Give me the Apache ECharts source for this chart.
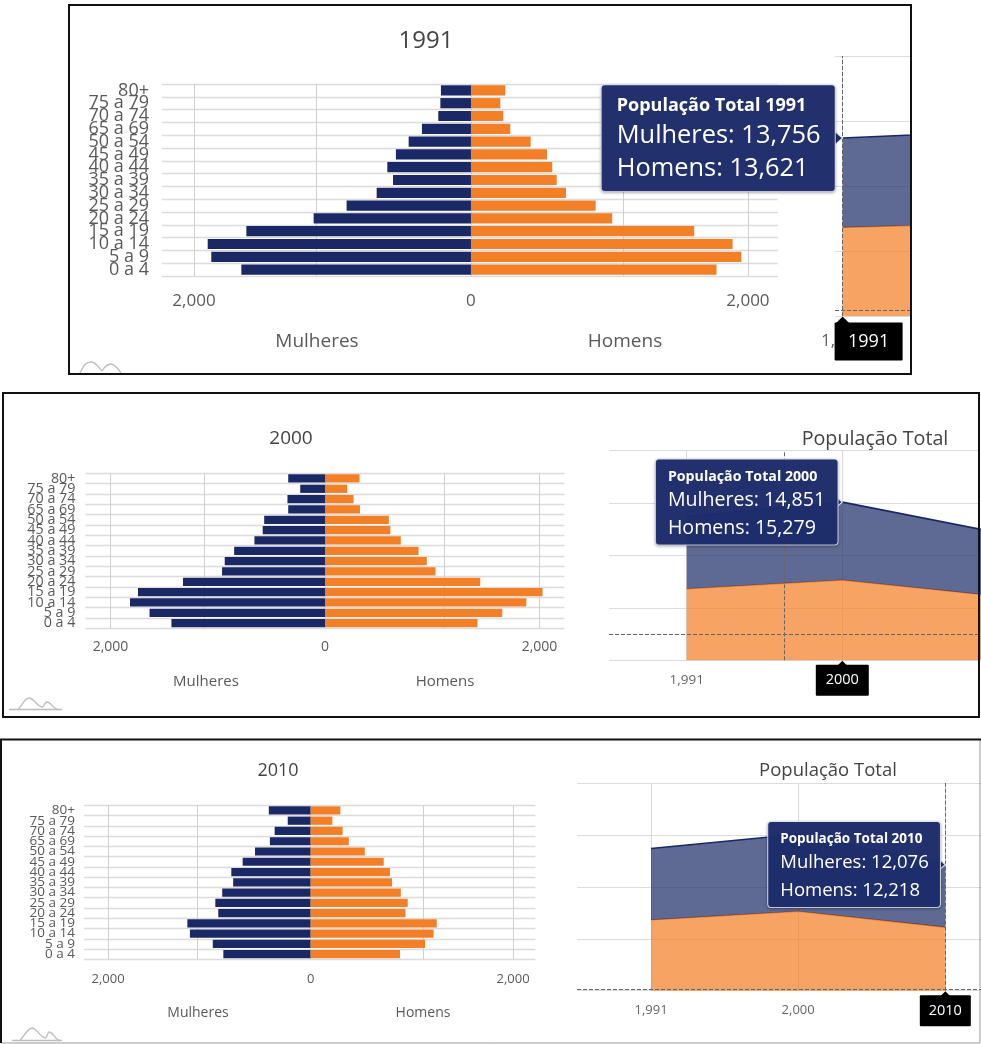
<!DOCTYPE html>
<html><head><meta charset="utf-8">
<style>html,body{margin:0;padding:0;background:#fff}#c{width:981px;height:1044px}</style>
<script src="https://cdn.jsdelivr.net/npm/echarts@6/dist/echarts.min.js"></script>
</head><body><div id="c"></div>
<script>
const categories = ['80+','75 a 79','70 a 74','65 a 69','50 a 54','45 a 49','40 a 44','35 a 39','30 a 34','25 a 29','20 a 24','15 a 19','10 a 14','5 a 9','0 a 4'];
const mulheres1991 = [217,221,236,354,450,542,604,563,681,898,1136,1622,1901,1875,1658];
const homens1991   = [248,212,233,284,431,549,587,619,686,900,1020,1612,1889,1952,1773];
const mulheres2000 = [343,231,350,343,567,581,658,847,935,960,1324,1744,1818,1636,1432];
const homens2000   = [322,207,266,326,595,609,707,872,949,1030,1447,2028,1877,1653,1422];
const mulheres2010 = [413,226,355,402,549,671,783,765,873,941,912,1217,1192,966,862];
const homens2010   = [294,215,316,377,535,722,783,804,891,959,937,1246,1214,1131,883];
const anos = ['1991','2000','2010'];
const anosEixo = ['1,991','2,000','2,010'];
const totalMulheres = [13756,14851,12076];
const totalHomens = [13621,15279,12218];
const tickLabels = [-2000,0,2000];

const NAVY='#1a2966', ORANGE='#f37f27', FONT='"Open Sans"';
const fmt = n => Math.abs(n).toString().replace(/\B(?=(\d{3})+$)/g, ',');

const panels = [
 {i:0,title:'1991',titleX:426,titleY:41,titleSize:24,women:mulheres1991,men:homens1991,
  pyr:{left:162,top:84,width:616,height:192,min:-2231,max:2217,grid:[-2000,-1120,0,1100,2000]},
  catSize:18,catMargin:13,tickSize:17,tickMargin:17,nameSize:19,nameY:342,nameX:[317,625],
  area:{left:835,top:56,width:75,height:260,min:-0.019,max:0.1685,ticks:[0],labelMargin:17,labelSize:17,
        dashX:0,dashY:924,offset:[26,0]},
  box:{size:18,w:48,pad:[10,10],dist:-1},
  tip:{t:18,v:25.4,lt:27,lv:33,w:203,pad:[7.5,15,5.2,15],shift:-227.5}},
 {i:1,title:'2000',titleX:291,titleY:439,titleSize:19,women:mulheres2000,men:homens2000,totalTitle:[875,439,19.7],
  pyr:{left:85.4,top:473.3,width:479,height:155,min:-2234,max:2232,grid:[-2000,-1124,0,1110,2000]},
  catSize:14.3,catMargin:10,tickSize:14,tickMargin:12,nameSize:15,nameY:682,nameX:[206,445],
  area:{left:609,top:450.3,width:370,height:210,min:-0.4993,max:1.8785,ticks:[0,1],labelMargin:13,labelSize:13.5,
        dashX:0.627,dashY:4952,offset:[0,0]},
  box:{size:14.5,w:37,pad:[8,8],dist:-3},
  tip:{t:14.2,v:19.6,lt:20.5,lv:27.5,w:157.6,pad:[7,12,2.5,12],shift:-173}},
 {i:2,title:'2010',titleX:278,titleY:771,titleSize:18,women:mulheres2010,men:homens2010,totalTitle:[828,771,18.5],
  pyr:{left:84,top:805.3,width:451.4,height:154,min:-2238,max:2220,grid:[-2000,-1124,0,1110,2000]},
  catSize:13.5,catMargin:9,tickSize:13,tickMargin:13,nameSize:14,nameY:1013,nameX:[198,423],
  area:{left:577,top:783,width:404,height:207.7,min:-0.503,max:2.2425,ticks:[0,1,2],labelMargin:13,labelSize:13,
        dashX:2,dashY:327,offset:[0,0]},
  box:{size:14.5,w:35,pad:[8,8],dist:-3},
  tip:{t:13.5,v:18.5,lt:20,lv:28,w:147.7,pad:[6.7,12,2.3,12],shift:-163.7}}
];

const grid=[],xAxis=[],yAxis=[],series=[],title=[],graphic=[];
panels.forEach(p=>{
  const g0=grid.length;
  grid.push({left:p.pyr.left,top:p.pyr.top,width:p.pyr.width,height:p.pyr.height,containLabel:false});
  xAxis.push({gridIndex:g0,type:'value',min:p.pyr.min,max:p.pyr.max,position:'bottom',
    axisLine:{show:false},axisTick:{show:false,customValues:p.pyr.grid},
    splitLine:{show:true,lineStyle:{color:'#cfcfcf',width:1}},
    axisLabel:{customValues:tickLabels,formatter:v=>fmt(v),fontFamily:FONT,fontSize:p.tickSize,color:'#5a5a5a',margin:p.tickMargin,hideOverlap:false,showMinLabel:true,showMaxLabel:true}});
  yAxis.push({gridIndex:g0,type:'category',inverse:true,data:categories,
    axisLine:{show:false},axisTick:{show:false},
    splitLine:{show:true,interval:0,lineStyle:{color:'#dcdcdc',width:1.4}},
    axisLabel:{interval:0,fontFamily:FONT,fontSize:p.catSize,color:'#5a5a5a',margin:p.catMargin,hideOverlap:false}});
  const bar=(name,data,color)=>({type:'bar',name,xAxisIndex:g0,yAxisIndex:g0,stack:'p'+p.i,barCategoryGap:'20%',data,itemStyle:{color},silent:true});
  series.push(bar('Mulheres',p.women.map(v=>-v),NAVY));
  series.push(bar('Homens',p.men,ORANGE));

  const g1=grid.length, a=p.area, yi=anos.indexOf(p.title);
  grid.push({left:a.left,top:a.top,width:a.width,height:a.height});
  xAxis.push({gridIndex:g1,type:'value',min:a.min,max:a.max,
    axisLine:{show:false},axisTick:{show:false,customValues:a.ticks},
    splitLine:{show:true,lineStyle:{color:'#d9d9d9',width:1}},
    axisLabel:{customValues:a.ticks,formatter:v=>anosEixo[v],fontFamily:FONT,fontSize:a.labelSize,color:'#666',margin:a.labelMargin,hideOverlap:false,showMinLabel:true,showMaxLabel:true}});
  yAxis.push({gridIndex:g1,type:'value',min:0,max:40000,interval:10000,
    axisLine:{show:false},axisTick:{show:false},axisLabel:{show:false},
    splitLine:{show:true,lineStyle:{color:'#dcdcdc',width:1}}});
  // value first: the stack then runs over the value column, not the x position
  const pts=arr=>arr.map((v,k)=>[v,k]);
  series.push({type:'line',name:'Homens total',xAxisIndex:g1,yAxisIndex:g1,stack:'a'+p.i,data:pts(totalHomens),encode:{x:1,y:0},
    symbol:'none',silent:true,clip:true,z:3,
    lineStyle:{color:'#ee7a1f',width:1.3},areaStyle:{color:ORANGE,opacity:0.72},
    markLine:{silent:true,symbol:'none',animation:false,label:{show:false},
      lineStyle:{color:'#666',type:'dashed',width:1},
      data:[{xAxis:a.dashX},{yAxis:a.dashY}]},
    markPoint:{silent:true,animation:false,z:20,data:[{
      coord:[yi,0],symbol:'triangle',symbolSize:[14,7],symbolOffset:[0,4],
      itemStyle:{color:'#000'},
      label:{show:true,position:'bottom',distance:p.box.dist,offset:a.offset,formatter:p.title,color:'#fff',
        fontFamily:FONT,fontSize:p.box.size,backgroundColor:'#000',borderRadius:1,
        width:p.box.w,align:'center',padding:p.box.pad}
    }]}});
  series.push({type:'line',name:'Mulheres total',xAxisIndex:g1,yAxisIndex:g1,stack:'a'+p.i,data:pts(totalMulheres),encode:{x:1,y:0},
    symbol:'none',silent:true,clip:true,z:4,
    lineStyle:{color:NAVY,width:1.6},areaStyle:{color:NAVY,opacity:0.7},
    markPoint:{silent:true,animation:false,z:30,data:[{
      coord:[yi,totalMulheres[yi]+totalHomens[yi]],symbol:'triangle',symbolRotate:-90,symbolSize:[14,8],symbolOffset:[-4,0],
      itemStyle:{color:'#1f2e6c',borderColor:'#e4e7f0',borderWidth:1},
      label:{show:true,position:'left',distance:5,offset:[p.tip.shift,0],
        formatter:`{t|População Total ${p.title}}\n{v|Mulheres: ${fmt(totalMulheres[yi])}}\n{v|Homens: ${fmt(totalHomens[yi])}}`,
        backgroundColor:'rgba(29,44,107,0.97)',borderColor:'#e4e7f0',borderWidth:1,borderRadius:3,
        width:p.tip.w,padding:p.tip.pad,align:'left',
        shadowColor:'rgba(0,0,0,0.25)',shadowBlur:3,shadowOffsetY:1,
        rich:{t:{fontFamily:FONT,fontWeight:'bold',fontSize:p.tip.t,color:'#fff',lineHeight:p.tip.lt},
              v:{fontFamily:FONT,fontSize:p.tip.v,color:'#fff',lineHeight:p.tip.lv}}}
    }]}});

  title.push({text:p.title,left:p.titleX,top:p.titleY,textAlign:'center',textVerticalAlign:'middle',padding:0,
    textStyle:{fontFamily:FONT,fontWeight:'normal',fontSize:p.titleSize,color:'#444'}});
  if(p.totalTitle) title.push({text:'População Total',left:p.totalTitle[0],top:p.totalTitle[1],textAlign:'center',textVerticalAlign:'middle',padding:0,
    textStyle:{fontFamily:FONT,fontWeight:'normal',fontSize:p.totalTitle[2],color:'#444'}});
  ['Mulheres','Homens'].forEach((n,k)=>title.push({text:n,left:p.nameX[k],top:p.nameY,textAlign:'center',textVerticalAlign:'middle',padding:0,
    textStyle:{fontFamily:FONT,fontWeight:'normal',fontSize:p.nameSize,color:'#5a5a5a'}}));
});

// panel frames
const frame=(x,y,w,h,stroke,lw)=>({type:'rect',shape:{x,y,width:w,height:h},style:{fill:'none',stroke,lineWidth:lw},z:50,silent:true});
graphic.push(frame(69,5,842,369,'#111',2));
graphic.push(frame(3,393,976,324,'#111',2));
graphic.push(frame(1,739.5,979,303.5,'#999',1));
graphic.push({type:'line',shape:{x1:0,y1:739.5,x2:981,y2:739.5},style:{stroke:'#111',lineWidth:2},z:51,silent:true});
graphic.push({type:'line',shape:{x1:1,y1:739.5,x2:1,y2:1043},style:{stroke:'#111',lineWidth:2},z:51,silent:true});
// small logo marks
const logoStyle={fill:'none',stroke:'#bdbdbd',lineWidth:1.3};
const curve=(x1,y1,cx1,cy1,cx2,cy2,x2,y2)=>({type:'bezierCurve',silent:true,z:40,style:logoStyle,shape:{x1,y1,cpx1:cx1,cpy1:cy1,cpx2:cx2,cpy2:cy2,x2,y2}});
const stroke=(x1,y1,x2,y2)=>({type:'line',silent:true,z:40,style:logoStyle,shape:{x1,y1,x2,y2}});
graphic.push(curve(80,373,84,365,86,362,91,362),curve(91,362,96,362,99,368,102,371),curve(102,371,105,366,108,364,111,364),curve(111,364,115,364,118,369,121,373));
graphic.push(stroke(9,709.5,62,709.5),curve(18,709.5,23,704,25,698,29,698),curve(29,698,34,698,37,707,43,707),curve(43,707,45,703,46,702,47,702),curve(47,702,51,702,53,709,58,709.5));
graphic.push(stroke(12,1040.5,62,1040.5),curve(20,1040.5,25,1035,28,1028,32,1028),curve(32,1028,37,1028,40,1038,46,1038),curve(46,1038,48,1034,48,1032,49,1032),curve(49,1032,53,1032,55,1040,60,1040.5));

const chart=echarts.init(document.getElementById('c'),null,{renderer:'canvas'});
chart.setOption({animation:false,backgroundColor:'#fff',title,grid,xAxis,yAxis,series,graphic,tooltip:{show:false}});
</script></body></html>
